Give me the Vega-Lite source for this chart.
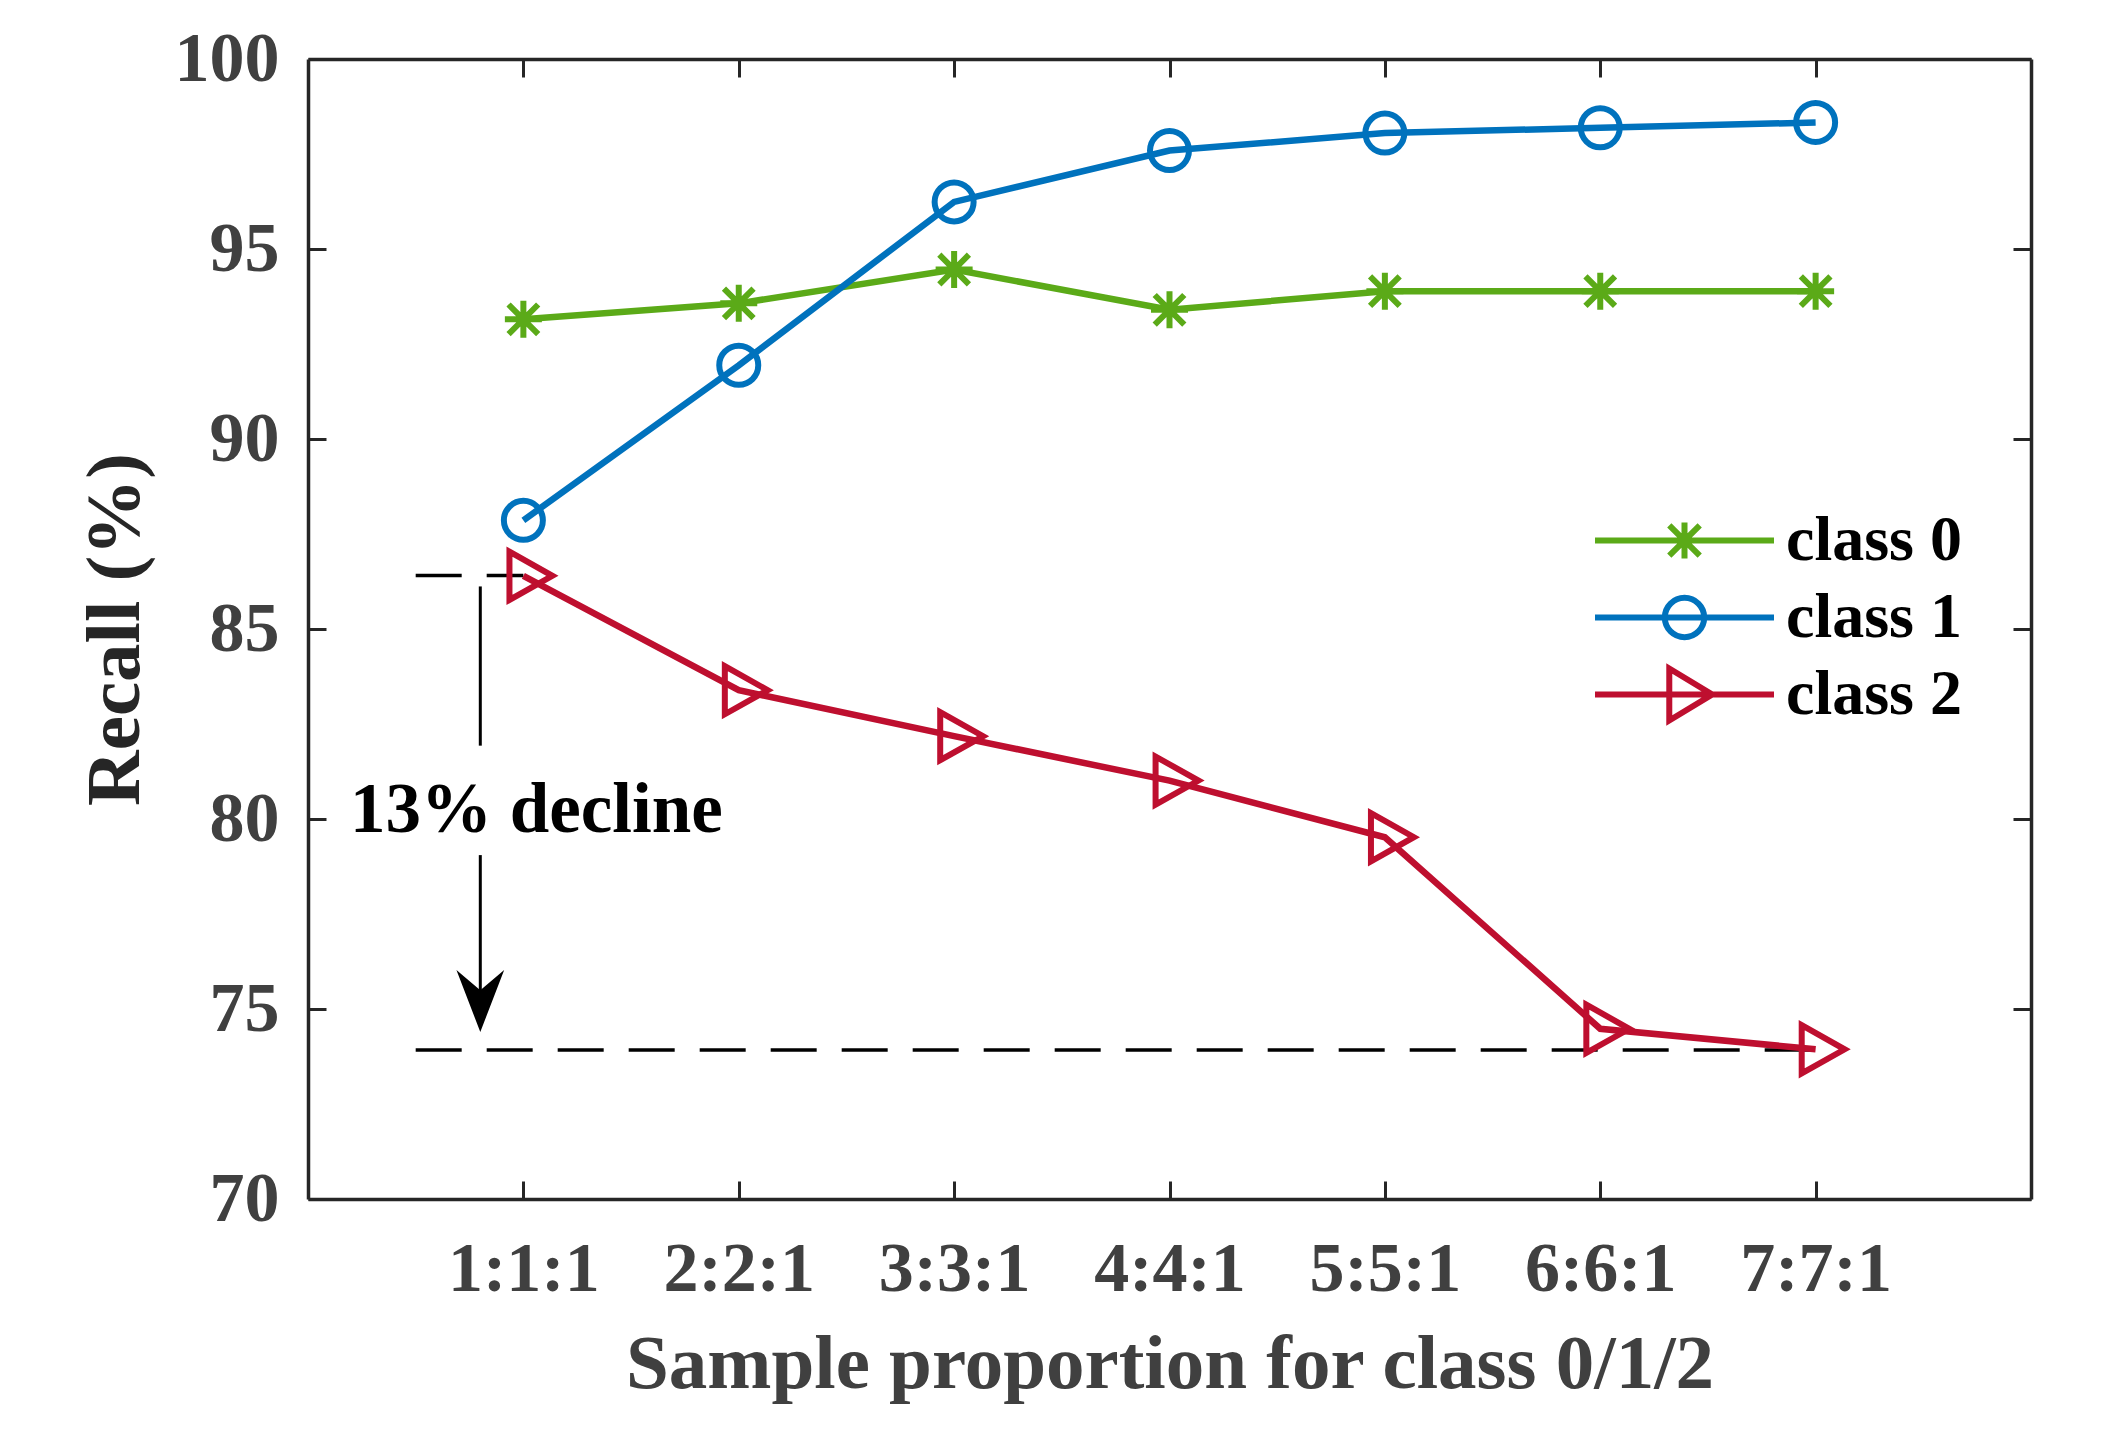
{
  "$schema": "https://vega.github.io/schema/vega-lite/v6.json",
  "autosize": {"type": "none"},
  "width": 1723,
  "height": 1140,
  "padding": {"left": 308, "top": 59, "right": 80, "bottom": 231},
  "background": "white",
  "config": {
    "view": {"stroke": null},
    "axis": {
      "domainColor": "#262626",
      "domainWidth": 3.5,
      "tickColor": "#262626",
      "tickWidth": 3,
      "tickSize": -18,
      "grid": false,
      "labelFont": "Liberation Serif",
      "labelFontWeight": "bold",
      "labelFontSize": 70,
      "labelColor": "#404040",
      "titleFont": "Liberation Serif",
      "titleFontWeight": "bold",
      "titleFontSize": 77
    },
    "legend": {
      "symbolSize": 32041,
      "symbolStrokeWidth": 6,
      "symbolOpacity": 1,
      "clipHeight": 77,
      "rowPadding": 0,
      "labelOffset": 9,
      "labelLimit": 400,
      "labelFont": "Liberation Serif",
      "labelFontWeight": "bold",
      "labelFontSize": 64,
      "labelColor": "black"
    }
  },
  "datasets": {
    "recall": [
      {"k": 1, "cls": "class 0", "recall": 93.15},
      {"k": 2, "cls": "class 0", "recall": 93.57},
      {"k": 3, "cls": "class 0", "recall": 94.46},
      {"k": 4, "cls": "class 0", "recall": 93.40},
      {"k": 5, "cls": "class 0", "recall": 93.89},
      {"k": 6, "cls": "class 0", "recall": 93.89},
      {"k": 7, "cls": "class 0", "recall": 93.89},
      {"k": 1, "cls": "class 1", "recall": 87.86},
      {"k": 2, "cls": "class 1", "recall": 91.94},
      {"k": 3, "cls": "class 1", "recall": 96.24},
      {"k": 4, "cls": "class 1", "recall": 97.59},
      {"k": 5, "cls": "class 1", "recall": 98.05},
      {"k": 6, "cls": "class 1", "recall": 98.19},
      {"k": 7, "cls": "class 1", "recall": 98.33},
      {"k": 1, "cls": "class 2", "recall": 86.40},
      {"k": 2, "cls": "class 2", "recall": 83.39},
      {"k": 3, "cls": "class 2", "recall": 82.18},
      {"k": 4, "cls": "class 2", "recall": 81.01},
      {"k": 5, "cls": "class 2", "recall": 79.52},
      {"k": 6, "cls": "class 2", "recall": 74.48},
      {"k": 7, "cls": "class 2", "recall": 73.94}
    ],
    "dashes": [
      {"k": 0.5, "k2": 1, "recall": 86.41},
      {"k": 0.5, "k2": 7, "recall": 73.92}
    ],
    "shaft": [
      {"k": 0.8, "recall": 86.12, "recall2": 81.93},
      {"k": 0.8, "recall": 79.05, "recall2": 75.4}
    ],
    "head": [{"k": 0.8, "recall": 75.21}],
    "note": [{"k": 1.06, "recall": 79.66, "label": "13% decline"}]
  },
  "layer": [
    {
      "data": {"name": "dashes"},
      "mark": {"type": "rule", "color": "black", "strokeWidth": 3.5, "strokeDash": [46, 25]},
      "encoding": {
        "x": {"field": "k", "type": "quantitative", "axis": null},
        "x2": {"field": "k2"},
        "y": {"field": "recall", "type": "quantitative", "axis": null}
      }
    },
    {
      "data": {"name": "shaft"},
      "mark": {"type": "rule", "color": "black", "strokeWidth": 3},
      "encoding": {
        "x": {"field": "k", "type": "quantitative", "axis": null},
        "y": {"field": "recall", "type": "quantitative", "axis": null},
        "y2": {"field": "recall2"}
      }
    },
    {
      "data": {"name": "head"},
      "mark": {"type": "point", "filled": true, "color": "black", "opacity": 1, "size": 3844, "shape": "M0,1L-0.77,-1L0,-0.35L0.77,-1Z"},
      "encoding": {
        "x": {"field": "k", "type": "quantitative", "axis": null},
        "y": {"field": "recall", "type": "quantitative", "axis": null}
      }
    },
    {
      "data": {"name": "note"},
      "mark": {"type": "text", "font": "Liberation Serif", "fontWeight": "bold", "fontSize": 71, "color": "black", "align": "center", "baseline": "alphabetic"},
      "encoding": {
        "x": {"field": "k", "type": "quantitative", "axis": null},
        "y": {"field": "recall", "type": "quantitative", "axis": null},
        "text": {"field": "label"}
      }
    },
    {
      "data": {"name": "recall"},
      "mark": {"type": "line", "strokeWidth": 6.5},
      "encoding": {
        "x": {
          "field": "k", "type": "quantitative",
          "scale": {"domain": [0, 8], "nice": false, "zero": false},
          "axis": {
            "orient": "bottom",
            "values": [1, 2, 3, 4, 5, 6, 7],
            "labelExpr": "datum.value + ':' + datum.value + ':1'",
            "labelPadding": 54,
            "title": "Sample proportion for class 0/1/2",
            "titleColor": "#404040",
            "titlePadding": 22
          }
        },
        "y": {
          "field": "recall", "type": "quantitative",
          "scale": {"domain": [70, 100], "nice": false, "zero": false},
          "axis": {
            "orient": "left",
            "values": [70, 75, 80, 85, 90, 95, 100],
            "labelPadding": 47,
            "title": "Recall (%)",
            "titleColor": "#262626",
            "titlePadding": 20
          }
        },
        "stroke": {
          "field": "cls", "type": "nominal",
          "scale": {"range": ["#5BAA18", "#0072BD", "#BE0F2F"]},
          "legend": null
        }
      }
    },
    {
      "data": {"name": "recall"},
      "transform": [{"filter": "datum.cls === 'class 0'"}],
      "mark": {"type": "point", "filled": false, "color": "#5BAA18", "opacity": 1, "strokeWidth": 6, "size": 1369, "shape": "M0,-1V1M-1,0H1M-0.8,-0.8L0.8,0.8M-0.8,0.8L0.8,-0.8"},
      "encoding": {
        "x": {"field": "k", "type": "quantitative", "axis": null},
        "y": {"field": "recall", "type": "quantitative", "axis": null}
      }
    },
    {
      "data": {"name": "recall"},
      "transform": [{"filter": "datum.cls === 'class 1'"}],
      "mark": {"type": "point", "filled": false, "color": "#0072BD", "opacity": 1, "strokeWidth": 6, "size": 1521, "shape": "circle"},
      "encoding": {
        "x": {"field": "k", "type": "quantitative", "axis": null},
        "y": {"field": "recall", "type": "quantitative", "axis": null}
      }
    },
    {
      "data": {"name": "recall"},
      "transform": [{"filter": "datum.cls === 'class 2'"}],
      "mark": {"type": "point", "filled": false, "color": "#BE0F2F", "opacity": 1, "strokeWidth": 6, "size": 3364, "shape": "M-0.48,-0.83L1,0L-0.48,0.83Z"},
      "encoding": {
        "x": {"field": "k", "type": "quantitative", "axis": null},
        "y": {"field": "recall", "type": "quantitative", "axis": null}
      }
    },
    {
      "data": {"name": "recall"},
      "mark": {"type": "point", "filled": false, "opacity": 0, "strokeWidth": 6},
      "encoding": {
        "x": {
          "field": "k", "type": "quantitative",
          "axis": {"orient": "top", "values": [1, 2, 3, 4, 5, 6, 7], "labels": false, "title": null}
        },
        "y": {
          "field": "recall", "type": "quantitative",
          "axis": {"orient": "right", "values": [70, 75, 80, 85, 90, 95, 100], "labels": false, "title": null}
        },
        "color": {
          "field": "cls", "type": "nominal",
          "scale": {"domain": ["class 0", "class 1", "class 2"], "range": ["#5BAA18", "#0072BD", "#BE0F2F"]},
          "legend": {"orient": "none", "legendX": 1284, "legendY": 443, "title": null}
        },
        "shape": {
          "field": "cls", "type": "nominal",
          "scale": {
            "domain": ["class 0", "class 1", "class 2"],
            "range": [
              "M-1,0H1M0,-0.2V0.2M-0.17,-0.17L0.17,0.17M-0.17,0.17L0.17,-0.17",
              "M-1,0H1M-0.22,0A0.22,0.22 0 1,1 0.22,0A0.22,0.22 0 1,1 -0.22,0",
              "M-1,0H1M-0.17,-0.29L0.31,0L-0.17,0.29Z"
            ]
          },
          "legend": {"orient": "none", "legendX": 1284, "legendY": 443, "title": null}
        }
      }
    }
  ],
  "resolve": {"axis": {"x": "independent", "y": "independent"}}
}
